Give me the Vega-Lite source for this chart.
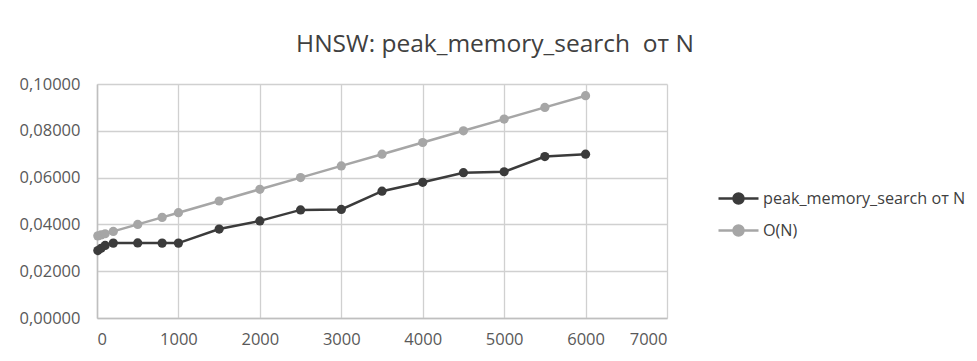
{
  "$schema": "https://vega.github.io/schema/vega-lite/v6.json",
  "width": 570,
  "height": 234,
  "autosize": {"type": "none"},
  "padding": {"left": 97, "top": 84, "right": 310, "bottom": 43},
  "background": "white",
  "title": {
    "text": "HNSW: peak_memory_search \u00a0от N",
    "font": "Open Sans",
    "fontSize": 24.5,
    "fontWeight": "normal",
    "color": "#404040",
    "anchor": "middle",
    "dx": 113,
    "offset": 19
  },
  "data": {
    "values": [
      {"N": 10, "series": "peak_memory_search от N", "value": 0.0288},
      {"N": 50, "series": "peak_memory_search от N", "value": 0.0298},
      {"N": 100, "series": "peak_memory_search от N", "value": 0.0310},
      {"N": 200, "series": "peak_memory_search от N", "value": 0.0320},
      {"N": 500, "series": "peak_memory_search от N", "value": 0.0321},
      {"N": 800, "series": "peak_memory_search от N", "value": 0.0320},
      {"N": 1000, "series": "peak_memory_search от N", "value": 0.0320},
      {"N": 1500, "series": "peak_memory_search от N", "value": 0.0380},
      {"N": 2000, "series": "peak_memory_search от N", "value": 0.0415},
      {"N": 2500, "series": "peak_memory_search от N", "value": 0.0462},
      {"N": 3000, "series": "peak_memory_search от N", "value": 0.0464},
      {"N": 3500, "series": "peak_memory_search от N", "value": 0.0542},
      {"N": 4000, "series": "peak_memory_search от N", "value": 0.0580},
      {"N": 4500, "series": "peak_memory_search от N", "value": 0.0621},
      {"N": 5000, "series": "peak_memory_search от N", "value": 0.0625},
      {"N": 5500, "series": "peak_memory_search от N", "value": 0.0690},
      {"N": 6000, "series": "peak_memory_search от N", "value": 0.0700},
      {"N": 10, "series": "O(N)", "value": 0.0351},
      {"N": 50, "series": "O(N)", "value": 0.0355},
      {"N": 100, "series": "O(N)", "value": 0.0360},
      {"N": 200, "series": "O(N)", "value": 0.0370},
      {"N": 500, "series": "O(N)", "value": 0.0400},
      {"N": 800, "series": "O(N)", "value": 0.0430},
      {"N": 1000, "series": "O(N)", "value": 0.0450},
      {"N": 1500, "series": "O(N)", "value": 0.0500},
      {"N": 2000, "series": "O(N)", "value": 0.0550},
      {"N": 2500, "series": "O(N)", "value": 0.0600},
      {"N": 3000, "series": "O(N)", "value": 0.0650},
      {"N": 3500, "series": "O(N)", "value": 0.0700},
      {"N": 4000, "series": "O(N)", "value": 0.0750},
      {"N": 4500, "series": "O(N)", "value": 0.0800},
      {"N": 5000, "series": "O(N)", "value": 0.0850},
      {"N": 5500, "series": "O(N)", "value": 0.0900},
      {"N": 6000, "series": "O(N)", "value": 0.0950}
    ]
  },
  "encoding": {
    "x": {
      "field": "N",
      "type": "quantitative",
      "scale": {"domain": [0, 7000], "nice": false},
      "axis": {"values": [0, 1000, 2000, 3000, 4000, 5000, 6000, 7000], "format": "d", "title": null}
    },
    "y": {
      "field": "value",
      "type": "quantitative",
      "scale": {"domain": [0, 0.1], "nice": false},
      "axis": {"values": [0, 0.02, 0.04, 0.06, 0.08, 0.1], "format": ".5f", "title": null}
    },
    "color": {
      "field": "series",
      "type": "nominal",
      "scale": {
        "domain": ["peak_memory_search от N", "O(N)"],
        "range": ["#3b3b3b", "#a6a6a6"]
      },
      "legend": {
        "title": null,
        "orient": "none",
        "legendX": 630,
        "legendY": 103,
        "symbolType": "M-2,0L2,0M0.5,0A0.5,0.5,0,1,1,-0.5,0A0.5,0.5,0,1,1,0.5,0",
        "symbolSize": 400,
        "symbolStrokeWidth": 2.5,
        "labelOffset": 13,
        "labelFontSize": 16.2,
        "labelFont": "Open Sans",
        "labelColor": "#404040",
        "labelLimit": 320,
        "rowPadding": 10
      }
    }
  },
  "layer": [
    {"mark": {"type": "line", "strokeWidth": 2.5}},
    {"mark": {"type": "point", "filled": true, "size": 85, "opacity": 1}}
  ],
  "config": {
    "font": "Open Sans",
    "locale": {
      "number": {"decimal": ",", "thousands": "", "grouping": [3], "currency": ["", ""]}
    },
    "view": {"stroke": null},
    "axis": {
      "grid": true,
      "gridColor": "#d0d0d0",
      "gridWidth": 1.3,
      "domainColor": "#bfbfbf",
      "domainWidth": 1.5,
      "ticks": false,
      "labelColor": "#595959",
      "labelFontSize": 16.5,
      "labelFont": "Open Sans"
    },
    "axisX": {"labelPadding": 13},
    "axisY": {"labelPadding": 17}
  }
}
